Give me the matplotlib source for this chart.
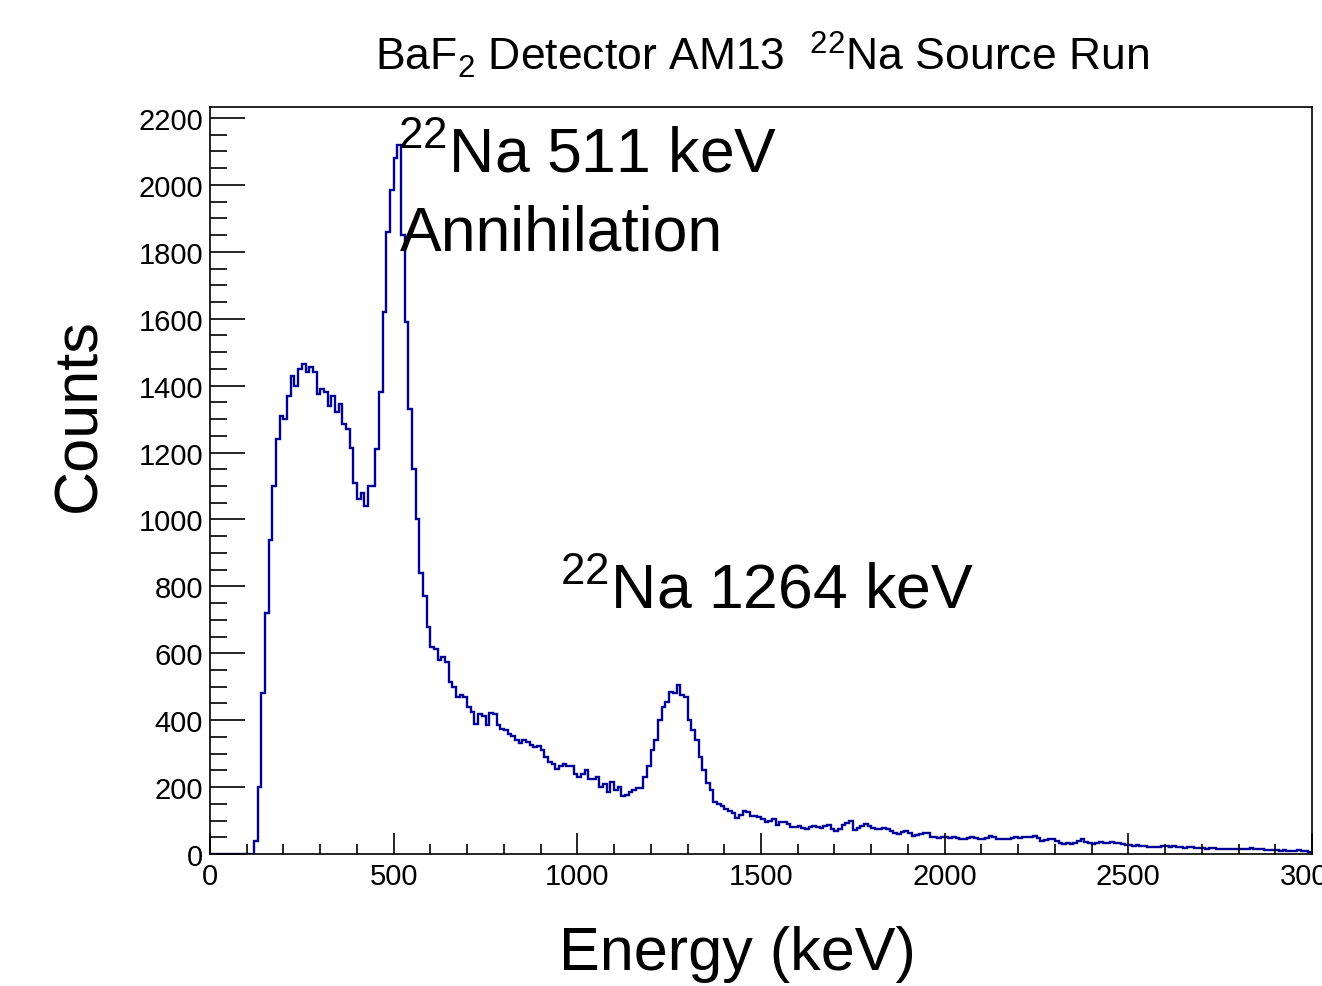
import numpy as np
import matplotlib
matplotlib.use("Agg")
import matplotlib.pyplot as plt
from matplotlib.ticker import MultipleLocator

plt.rcParams['font.family'] = ['Liberation Sans', 'DejaVu Sans']
plt.rcParams['mathtext.fontset'] = 'custom'
plt.rcParams['mathtext.rm'] = 'Liberation Sans'
plt.rcParams['mathtext.it'] = 'Liberation Sans'
plt.rcParams['mathtext.bf'] = 'Liberation Sans'

# ---- data: counts per 10 keV bin, 0 - 3000 keV ----
bin_width = 10
counts = [
    0, 0, 0, 0, 0, 0, 0, 0, 0, 0,
    0, 0, 40, 200, 480, 720, 940, 1100, 1240, 1310,
    1300, 1370, 1430, 1400, 1450, 1465, 1440, 1455, 1440, 1375,
    1390, 1380, 1340, 1370, 1320, 1345, 1285, 1270, 1215, 1110,
    1060, 1080, 1040, 1100, 1100, 1210, 1380, 1620, 1860, 1985,
    2080, 2120, 1850, 1590, 1330, 1150, 1000, 840, 770, 680,
    620, 612, 580, 588, 575, 515, 500, 470, 476, 470,
    440, 425, 390, 418, 412, 385, 420, 418, 385, 375,
    372, 360, 352, 340, 333, 340, 335, 325, 320, 322,
    310, 290, 276, 270, 255, 262, 268, 262, 262, 240,
    230, 240, 250, 225, 225, 230, 200, 210, 185, 215,
    192, 200, 172, 176, 184, 190, 198, 198, 230, 262,
    310, 340, 400, 438, 455, 483, 480, 505, 475, 470,
    400, 370, 340, 290, 250, 212, 190, 155, 150, 142,
    135, 128, 124, 108, 118, 130, 125, 115, 114, 112,
    105, 96, 100, 104, 88, 95, 95, 90, 82, 80,
    85, 78, 76, 80, 84, 80, 79, 84, 88, 76,
    70, 75, 86, 92, 98, 72, 78, 84, 90, 85,
    78, 76, 75, 78, 74, 68, 64, 60, 66, 70,
    62, 55, 58, 60, 64, 62, 52, 50, 48, 50,
    51, 49, 50, 47, 46, 45, 48, 50, 47, 46,
    45, 48, 55, 50, 46, 44, 46, 45, 47, 50,
    48, 50, 52, 50, 55, 48, 40, 42, 44, 45,
    38, 33, 30, 32, 30, 33, 38, 45, 36, 32,
    30, 34, 35, 34, 33, 35, 34, 32, 30, 28,
    26, 25, 26, 24, 25, 22, 20, 22, 21, 23,
    24, 22, 25, 21, 20, 19, 21, 20, 18, 19,
    17, 16, 18, 17, 16, 15, 16, 15, 14, 15,
    16, 15, 14, 17, 16, 14, 15, 13, 12, 12,
    11, 10, 11, 10, 9, 10, 11, 9, 8, 7,
]
x_min, x_max = 0, 3000
y_min, y_max = 0, 2233
x_ticks = [0, 500, 1000, 1500, 2000, 2500, 3000]
y_ticks = list(range(0, 2201, 200))

title = r"BaF$_2$ Detector AM13  $^{22}$Na Source Run"
xlabel = "Energy (keV)"
ylabel = "Counts"
annotations = [
    (r"$^{22}$Na 511 keV", 512, 2041),
    ("Annihilation", 517, 1808),
    (r"$^{22}$Na 1264 keV", 953, 738),
]

# ---- figure ----
fig = plt.figure(figsize=(13.22, 9.87), dpi=100)
ax = fig.add_axes([210/1322, 1-855/987, (1312-210)/1322, (855-108)/987])

edges = np.arange(len(counts) + 1) * bin_width
ax.stairs(counts, edges, color='#000099', lw=1.7, baseline=None)

ax.set_xlim(x_min, x_max)
ax.set_ylim(y_min, y_max)
ax.set_xticks(x_ticks)
ax.set_yticks(y_ticks)
ax.xaxis.set_minor_locator(MultipleLocator(100))
ax.yaxis.set_minor_locator(MultipleLocator(50))
ax.tick_params(axis='both', which='both', direction='in', top=False, right=False,
               width=1.2, colors='black')
ax.tick_params(axis='x', which='major', length=15, pad=6, labelsize=21)
ax.tick_params(axis='x', which='minor', length=7.5)
ax.tick_params(axis='y', which='major', length=25, pad=5, labelsize=21)
ax.tick_params(axis='y', which='minor', length=12)
for s in ax.spines.values():
    s.set_linewidth(1.2)

fig.text(762/1322, 1-55/987, title, ha='center', va='center', fontsize=32)
fig.text(737/1322, 1-955/987, xlabel, ha='center', va='center', fontsize=44)
fig.text(80/1322, 1-415/987, ylabel, ha='center', va='center', fontsize=44, rotation=90)

for txt, xv, yv in annotations:
    ax.text(xv, yv, txt, ha='left', va='baseline', fontsize=45)

fig.savefig("out.png", dpi=100)
